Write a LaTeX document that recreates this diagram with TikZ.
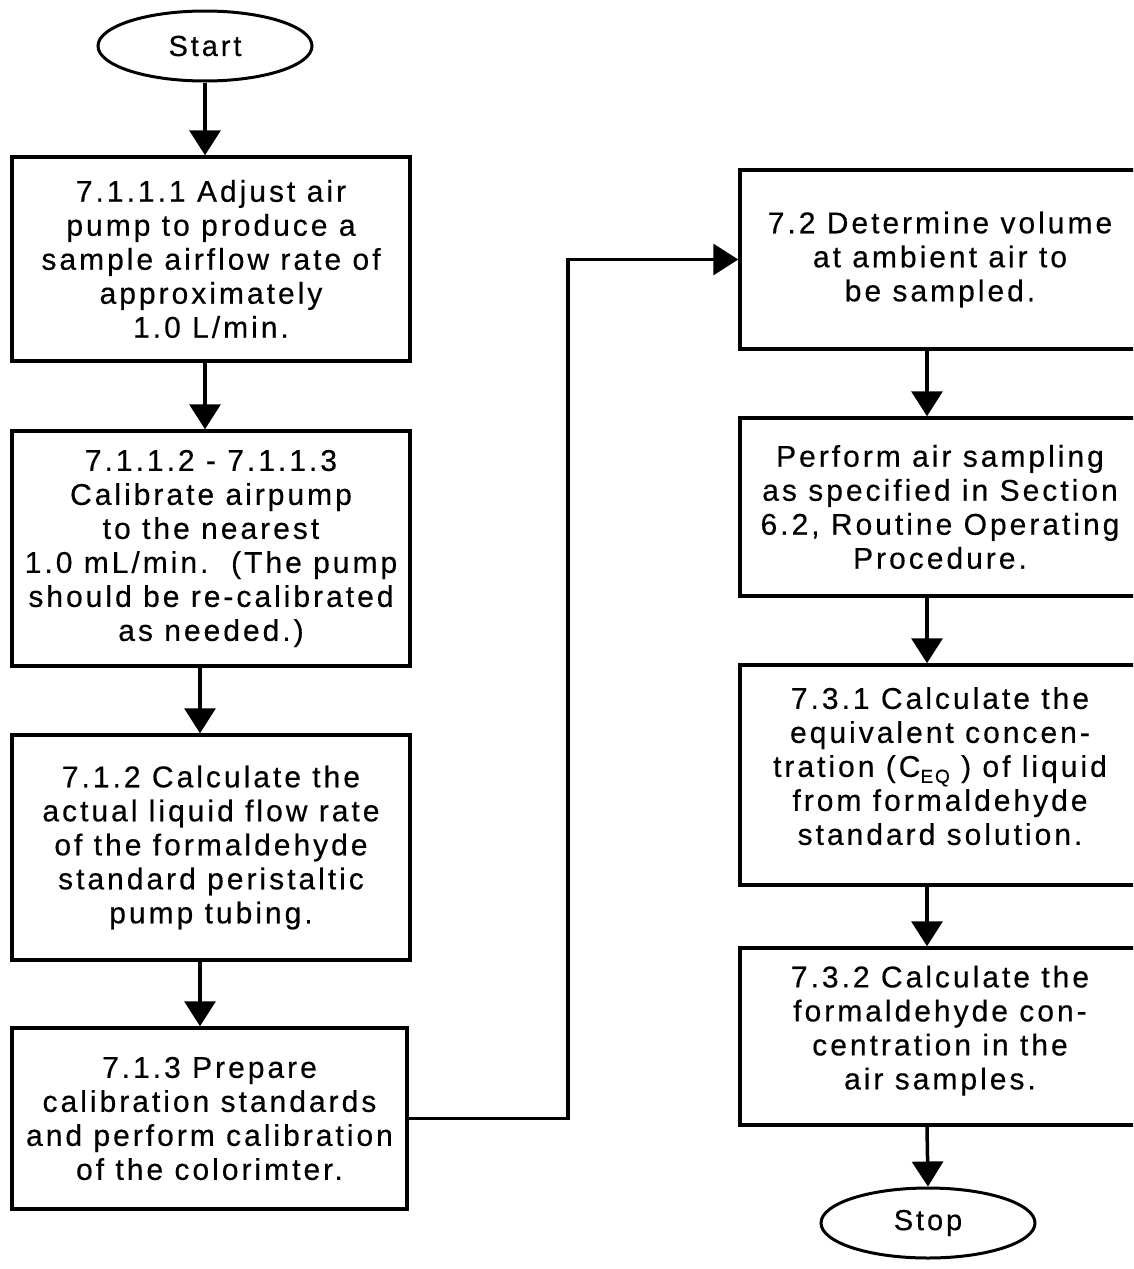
\documentclass[tikz,border=0pt]{standalone}
\usepackage{fontspec}
\setmainfont{Liberation Sans}[LetterSpace=10,FakeBold=0.4]
\usetikzlibrary{arrows.meta,shapes.geometric,calc}
\begin{document}
\begin{tikzpicture}[x=1pt,y=-1pt,
  box/.style={draw, line width=3.5pt, rectangle, align=center, inner sep=0pt,
    font=\fontsize{30}{34}\selectfont},
  term/.style={draw, ellipse, line width=3pt, minimum width=214pt, minimum height=70pt,
    inner sep=0pt, font=\fontsize{29}{32}\selectfont},
  arr/.style={line width=3.5pt, -{Triangle[length=25pt,width=31pt]}}]
\useasboundingbox (0,0) rectangle (1133,1269);
\clip (0,0) rectangle (1133,1269);
\fill[white] (0,0) rectangle (1133,1269);

% column guides
\coordinate (lx) at (200,0);
\coordinate (rx) at (927,0);
\coordinate (jx) at (568,0);

% left column
\node[term] (start) at (205,46) {Start};
\node[box, minimum width=398pt, minimum height=204pt] (b1) at (211,259)
  {7.1.1.1 Adjust air\\pump to produce a\\sample airflow rate of\\approximately\\1.0 L/min.};
\node[box, minimum width=398pt, minimum height=235pt] (b2) at (211,548.5)
  {7.1.1.2 - 7.1.1.3\\Calibrate airpump\\to the nearest\\1.0 mL/min.\ \ (The pump\\should be re-calibrated\\as needed.)};
\node[box, minimum width=398pt, minimum height=225pt] (b3) at (211,847.5)
  {7.1.2 Calculate the\\actual liquid flow rate\\of the formaldehyde\\standard peristaltic\\pump tubing.};
\node[box, minimum width=395pt, minimum height=181pt] (b4) at (209.5,1118.5)
  {7.1.3 Prepare\\calibration standards\\and perform calibration\\of the colorimter.};

% right column
\node[box, minimum width=400pt, minimum height=179pt] (r1) at (940,259.5)
  {7.2 Determine volume\\at ambient air to\\be sampled.};
\node[box, minimum width=400pt, minimum height=178pt] (r2) at (940,507)
  {Perform air sampling\\as specified in Section\\6.2, Routine Operating\\Procedure.};
\node[box, minimum width=400pt, minimum height=220pt] (r3) at (940,775)
  {7.3.1 Calculate the\\equivalent concen-\\tration (C\raisebox{-6pt}{\fontsize{19}{19}\selectfont EQ} ) of liquid\\from formaldehyde\\standard solution.\\[-16pt]};
\node[box, minimum width=400pt, minimum height=177pt] (r4) at (940,1036.5)
  {7.3.2 Calculate the\\formaldehyde con-\\centration in the\\air samples.\\[-16pt]};
\node[term] (stop) at (928,1223) {Stop};

% connectors
\draw[arr] (start.south) -- (start.south |- b1.north);
\draw[arr] (b1.south -| start.south) -- (b2.north -| start.south);
\draw[arr] (b2.south -| lx) -- (b3.north -| lx);
\draw[arr] (b3.south -| lx) -- (b4.north -| lx);
\draw[arr] (b4.east) -- (b4.east -| jx) -- (r1.west -| jx) -- (r1.west);
\draw[arr] (r1.south -| rx) -- (r2.north -| rx);
\draw[arr] (r2.south -| rx) -- (r3.north -| rx);
\draw[arr] (r3.south -| rx) -- (r4.north -| rx);
\draw[arr] (r4.south -| rx) -- (stop.north);
\end{tikzpicture}
\end{document}
